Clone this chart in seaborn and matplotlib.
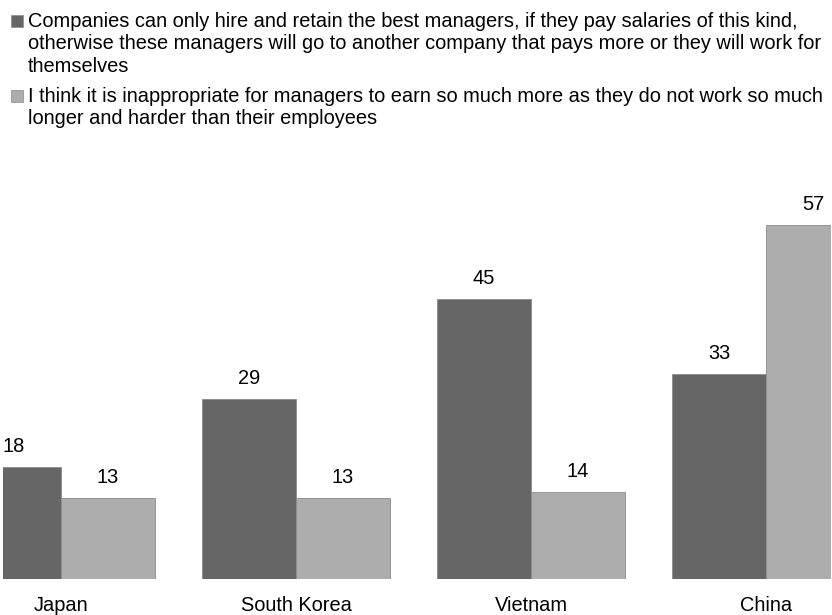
import matplotlib
matplotlib.use("Agg")
import matplotlib.pyplot as plt
import seaborn as sns
import pandas as pd
from matplotlib.patches import Rectangle

# Survey results: share of respondents (%) agreeing with each statement
countries = ["Japan", "South Korea", "Vietnam", "China"]
series_names = [
    "Companies can only hire and retain the best managers, if they pay salaries of this kind,\n"
    "otherwise these managers will go to another company that pays more or they will work for\n"
    "themselves",
    "I think it is inappropriate for managers to earn so much more as they do not work so much\n"
    "longer and harder than their employees",
]
justified = [18, 29, 45, 33]
inappropriate = [13, 13, 14, 57]
colors = ["#666666", "#adadad"]

df = pd.DataFrame({
    "country": countries * 2,
    "statement": [series_names[0]] * 4 + [series_names[1]] * 4,
    "value": justified + inappropriate,
})

sns.set_theme(style="white")
plt.rcParams["font.family"] = ["Liberation Sans", "DejaVu Sans"]

FS = 14.4
W, H = 832, 615
fig = plt.figure(figsize=(W / 100, H / 100), dpi=100)
# axes box in pixel terms: left 3, right 831, bottom 579, top 206
ax = fig.add_axes([3 / W, (H - 579) / H, (831 - 3) / W, (579 - 206) / H])

sns.barplot(data=df, x="country", y="value", hue="statement",
            order=countries, hue_order=series_names, palette=colors,
            width=0.8, dodge=True, saturation=1, ax=ax,
            edgecolor="#8a8a8a", linewidth=0.6, legend=False)

ax.set_xlim(-0.2468, 3.2766)
ax.set_ylim(0, 60)
for s in ax.spines.values():
    s.set_visible(False)
ax.set_yticks([])
ax.set_xlabel("")
ax.set_ylabel("")
ax.tick_params(axis="x", length=0, pad=12.5, labelsize=FS, labelcolor="black")

for cont in ax.containers:
    for bar in cont:
        h = bar.get_height()
        ax.annotate(f"{h:.0f}", (bar.get_x() + bar.get_width() / 2, h),
                    xytext=(0, 8), textcoords="offset points",
                    ha="center", va="bottom", fontsize=FS, color="black",
                    annotation_clip=False)

# legend: square swatches with wrapped labels
legend_tops = [12, 87]
for name, col, top in zip(series_names, colors, legend_tops):
    fig.patches.append(Rectangle((11 / W, 1 - (top + 15) / H), 12 / W, 12 / H,
                                 transform=fig.transFigure, facecolor=col,
                                 edgecolor="#8a8a8a", linewidth=0.5))
    fig.text(28 / W, 1 - top / H, name, ha="left", va="top",
             fontsize=FS, linespacing=1.22, color="black")

fig.savefig("out.png", dpi=100)
